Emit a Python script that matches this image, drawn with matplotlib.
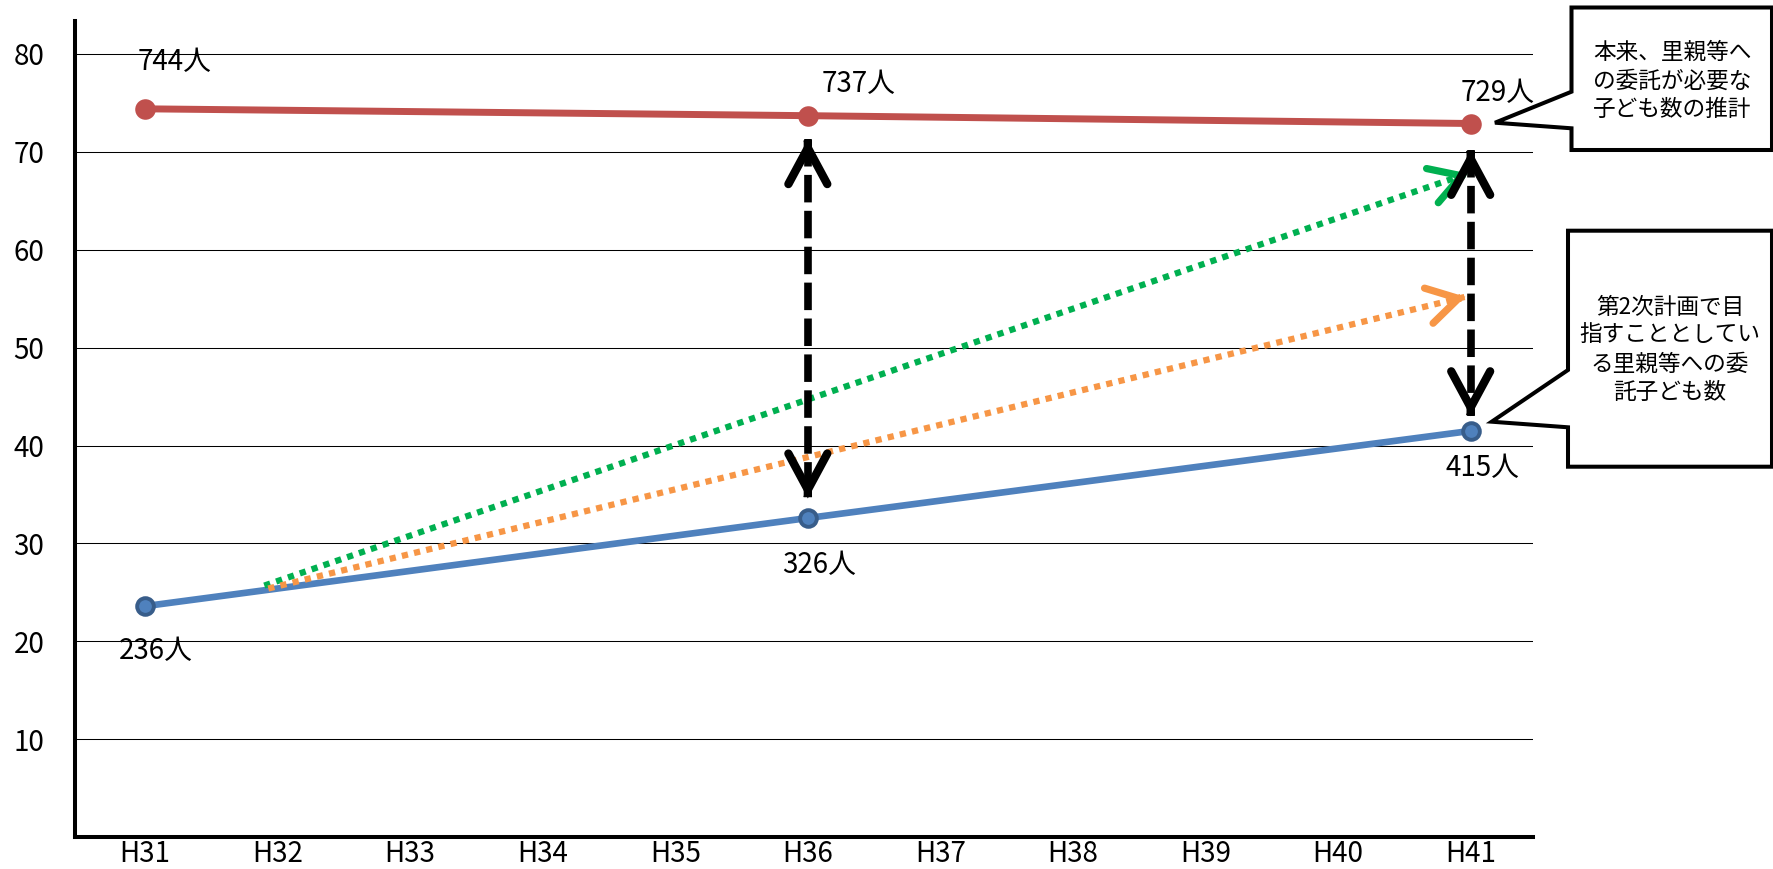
import matplotlib
matplotlib.use("Agg")
import matplotlib.pyplot as plt
from matplotlib.patches import Polygon, FancyArrowPatch, ArrowStyle

plt.rcParams['font.family'] = ['Noto Sans CJK JP', 'DejaVu Sans']

# ---- data -------------------------------------------------------------
years = ['H31', 'H32', 'H33', 'H34', 'H35', 'H36', 'H37', 'H38', 'H39', 'H40', 'H41']
point_idx = [0, 5, 10]

# 本来、里親等への委託が必要な子ども数の推計（単位：10人）
needed = [74.4, 73.7, 72.9]
needed_labels = ['744人', '737人', '729人']

# 第2次計画で目指す里親等への委託子ども数（単位：10人）
planned = [23.6, 32.6, 41.5]
planned_labels = ['236人', '326人', '415人']

# 目標に向けた伸び（開始点・終点）
green_x = [0.90, 9.98]
green_y = [25.7, 67.8]
orange_x = [0.93, 9.96]
orange_y = [25.4, 55.2]

# 必要数と委託数の差を示す両矢印
gap_x = [5, 10]
gap_top = [71.3, 70.2]
gap_bottom = [34.6, 43.0]

y_ticks = [10, 20, 30, 40, 50, 60, 70, 80]

# ---- figure -----------------------------------------------------------
W, H = 1774, 869
fig = plt.figure(figsize=(W / 100, H / 100), dpi=100)
ax = fig.add_axes([75 / W, 1 - 837.2 / H, (1533 - 75) / W, (837.2 - 21) / H])
ax.set_xlim(-0.528, 10.47)
ax.set_ylim(0, 83.37)

RED = '#C0504D'
BLUE = '#4F81BD'
BLUE_EDGE = '#385D8A'
GREEN = '#00B050'
ORANGE = '#F79646'

for s in ['top', 'right']:
    ax.spines[s].set_visible(False)
for s in ['left', 'bottom']:
    ax.spines[s].set_linewidth(2.9)
    ax.spines[s].set_color('black')

ax.set_yticks(y_ticks)
ax.set_yticklabels([str(v) for v in y_ticks])
ax.set_xticks(range(len(years)))
ax.set_xticklabels(years)
ax.tick_params(axis='y', length=0, pad=22, labelsize=20)
ax.tick_params(axis='x', length=0, pad=1, labelsize=20)
ax.yaxis.grid(True, color='black', linewidth=0.75)
ax.set_axisbelow(True)

# main series
ax.plot(point_idx, needed, color=RED, lw=5.0, marker='o', ms=14.8,
        mfc=RED, mec=RED, mew=0, zorder=3, solid_capstyle='butt')
ax.plot(point_idx, planned, color=BLUE, lw=4.8, marker='o', ms=12,
        mfc=BLUE, mec=BLUE_EDGE, mew=2.8, zorder=3, solid_capstyle='butt')

# value labels
red_off = [(30, -47), (51, -32), (27, -30)]
blue_off = [(11, 45), (11, 47), (12, 37)]
for x, y, t, (dx, dy) in zip(point_idx, needed, needed_labels, red_off):
    ax.annotate(t, (x, y), xytext=(dx, -dy), textcoords='offset pixels',
                ha='center', va='center', fontsize=20, zorder=6)
for x, y, t, (dx, dy) in zip(point_idx, planned, planned_labels, blue_off):
    ax.annotate(t, (x, y), xytext=(dx, -dy), textcoords='offset pixels',
                ha='center', va='center', fontsize=20, zorder=6)


def head(x0, y0, x1, y1, color, lw, hl, hw, z):
    # short solid segment near the tip carrying an open arrow head
    t = 0.995
    xs = x0 + t * (x1 - x0)
    ys = y0 + t * (y1 - y0)
    p = FancyArrowPatch((xs, ys), (x1, y1),
                        arrowstyle=ArrowStyle('->', head_length=hl, head_width=hw),
                        mutation_scale=1, lw=lw, color=color,
                        shrinkA=0, shrinkB=0, capstyle='round', joinstyle='miter',
                        zorder=z)
    ax.add_patch(p)


# dotted growth lines
for xs, ys, c in [(green_x, green_y, GREEN), (orange_x, orange_y, ORANGE)]:
    ax.plot(xs, ys, color=c, lw=4.5, dashes=(1, 1), dash_capstyle='butt', zorder=4)
    head(xs[0], ys[0], xs[1], ys[1], c, 5.2, 22, 13, 4)

# dashed double arrows
for x, top, bot in zip(gap_x, gap_top, gap_bottom):
    ax.plot([x, x], [top, bot], color='black', lw=5.5, dashes=(3.6, 1.1),
            dash_capstyle='butt', zorder=5)
    head(x, bot, x, top, 'black', 6.0, 26, 14, 5)
    head(x, top, x, bot, 'black', 6.0, 26, 14, 5)


# ---- callouts ---------------------------------------------------------
def fig_xy(px, py):
    return (px / W, 1 - py / H)


box1 = [(1571.5, 7.5), (1772, 7.5), (1772, 150), (1571.5, 150), (1571.5, 128.3),
        (1495, 122.7), (1571.5, 91.7)]
box2 = [(1568, 230.7), (1772, 230.7), (1772, 466.7), (1568, 466.7), (1568, 427.3),
        (1491.7, 421.7), (1568, 370)]
for pts in [box1, box2]:
    poly = Polygon([fig_xy(*p) for p in pts], closed=True, transform=fig.transFigure,
                   facecolor='white', edgecolor='black', lw=2.9, joinstyle='miter')
    fig.add_artist(poly)

fig.text(*fig_xy(1672, 81), '本来、里親等へ\nの委託が必要な\n子ども数の推計',
         ha='center', va='center', fontsize=16.3, linespacing=1.3)
fig.text(*fig_xy(1670, 350), '第2次計画で目\n指すこととしてい\nる里親等への委\n託子ども数',
         ha='center', va='center', fontsize=16.3, linespacing=1.3)

fig.savefig('out.png', dpi=100)
